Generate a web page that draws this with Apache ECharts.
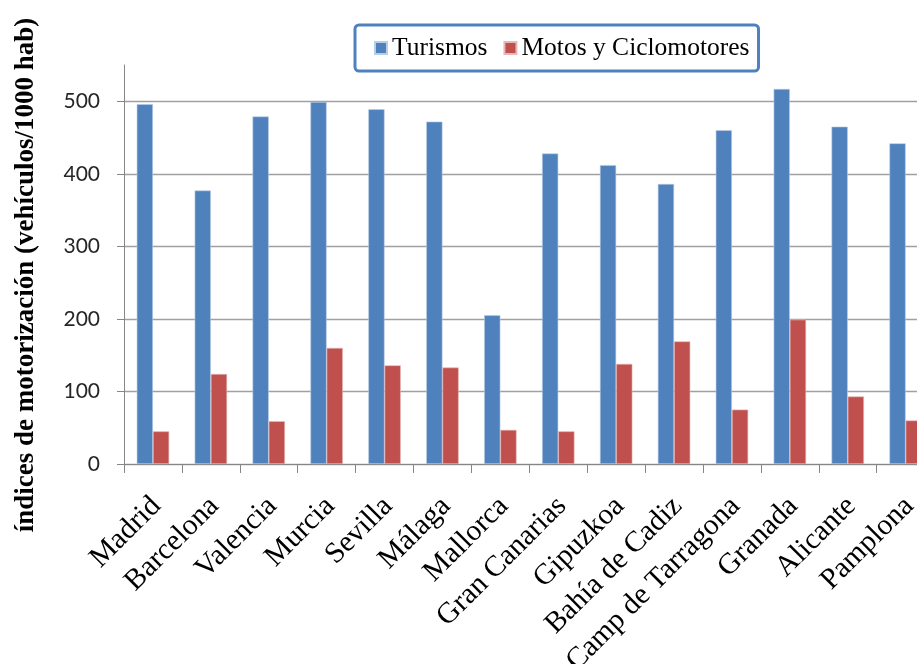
<!DOCTYPE html>
<html>
<head>
<meta charset="utf-8">
<script src="https://cdn.jsdelivr.net/npm/echarts@6/dist/echarts.min.js"></script>
<style>
  html, body { margin: 0; padding: 0; background: #ffffff; }
  #chart { width: 917px; height: 664px; }
</style>
</head>
<body>
<div id="chart"></div>
<script>
// Metropolitan areas
const cities = ['Madrid', 'Barcelona', 'Valencia', 'Murcia', 'Sevilla', 'Málaga', 'Mallorca',
  'Gran Canarias', 'Gipuzkoa', 'Bahía de Cadiz', 'Camp de Tarragona', 'Granada', 'Alicante', 'Pamplona'];
// Vehicles per 1000 inhabitants
const turismos = [496, 377, 479, 499, 489, 472, 205, 428, 412, 386, 460, 517, 465, 442];
const motos = [45, 124, 59, 160, 136, 133, 47, 45, 138, 169, 75, 199, 93, 60];
const seriesNames = ['Turismos', 'Motos y Ciclomotores'];
const yTitle = 'índices de motorización (vehículos/1000 hab)';

const chart = echarts.init(document.getElementById('chart'), null, { renderer: 'canvas' });

const serif = '"Liberation Serif", "Times New Roman", serif';
const sans = 'Lato, "Liberation Sans", sans-serif';

chart.setOption({
  animation: false,
  backgroundColor: '#ffffff',
  color: ['#4F81BD', '#C0504D'],
  grid: {
    left: 124, top: 65, bottom: 200, right: -17.6,
    containLabel: false,
    outerBoundsMode: 'none'
  },
  legend: {
    data: seriesNames,
    left: 355,
    top: 25,
    icon: 'rect',
    itemWidth: 12,
    itemHeight: 12,
    itemGap: 16,
    padding: [10, 9, 10, 19],
    backgroundColor: '#ffffff',
    borderColor: '#4F81BD',
    borderWidth: 3,
    borderRadius: 4,
    textStyle: { fontFamily: serif, fontSize: 25.5, color: '#000000' }
  },
  xAxis: {
    type: 'category',
    data: cities,
    axisLine: { lineStyle: { color: '#868686', width: 1 } },
    axisTick: { show: true, interval: 0, length: 9, lineStyle: { color: '#868686' } },
    axisLabel: {
      interval: 0,
      rotate: 45,
      margin: 20,
      verticalAlign: 'top',
      padding: [0, 10, 0, 0],
      fontFamily: serif,
      fontSize: 29.5,
      color: '#000000'
    }
  },
  yAxis: {
    type: 'value',
    min: 0,
    max: 550,
    interval: 100,
    axisLine: { show: true, lineStyle: { color: '#868686', width: 1 } },
    axisTick: { show: true, length: 7, lineStyle: { color: '#868686' } },
    axisLabel: {
      showMaxLabel: false,
      margin: 24,
      fontFamily: sans,
      fontSize: 21,
      color: '#262626'
    },
    splitLine: { show: true, showMaxLine: false, lineStyle: { color: '#a0a0a0', width: 1.3 } }
  },
  series: [
    {
      name: seriesNames[0],
      type: 'bar',
      data: turismos,
      barGap: '0%',
      barCategoryGap: '44%',
      itemStyle: { color: '#4F81BD', borderColor: '#b9cde5', borderWidth: 0.6 }
    },
    {
      name: seriesNames[1],
      type: 'bar',
      data: motos,
      itemStyle: { color: '#C0504D', borderColor: '#e6b9b8', borderWidth: 0.6 }
    }
  ],
  graphic: [
    {
      type: 'text',
      x: 26,
      y: 275,
      rotation: Math.PI / 2,
      style: {
        text: yTitle,
        fontFamily: serif,
        fontWeight: 'bold',
        fontSize: 27,
        fill: '#000000',
        align: 'center',
        verticalAlign: 'middle'
      }
    }
  ]
});
</script>
</body>
</html>
